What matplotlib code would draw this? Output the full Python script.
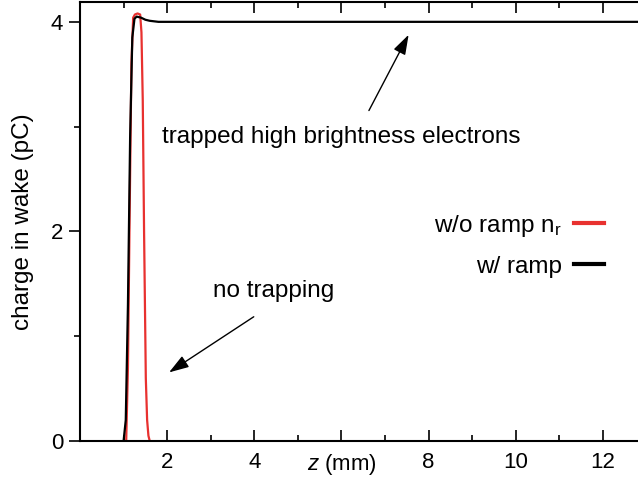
import matplotlib.pyplot as plt
from matplotlib.ticker import MultipleLocator

plt.rcParams['font.family'] = ['Liberation Sans', 'DejaVu Sans']
plt.rcParams['mathtext.fontset'] = 'custom'
plt.rcParams['mathtext.rm'] = 'Liberation Sans'
plt.rcParams['mathtext.it'] = 'Liberation Sans:italic'

# charge trapped in the wake vs propagation distance
z_ramp = [1.0, 1.05, 1.1, 1.15, 1.2, 1.25, 1.3, 1.4, 1.5, 1.6, 1.8, 2.0, 3.0, 6.0, 13.0]
q_ramp = [0.0, 0.2, 1.3, 2.9, 3.85, 4.03, 4.05, 4.04, 4.02, 4.01, 4.0, 4.0, 4.0, 4.0, 4.0]

z_noramp = [1.06, 1.1, 1.14, 1.18, 1.22, 1.26, 1.32, 1.38, 1.41, 1.44, 1.47, 1.51, 1.54, 1.57, 1.6]
q_noramp = [0.0, 0.7, 2.2, 3.6, 4.04, 4.07, 4.08, 4.07, 3.9, 3.25, 2.0, 0.6, 0.2, 0.05, 0.0]

xticks = [2, 4, 6, 8, 10, 12]
xlabels = ['2', '4', r'$\mathit{z}$ (mm)', '8', '10', '12']

fig = plt.figure(figsize=(6.38, 4.83), dpi=100)
ax = fig.add_axes([0.1254, 0.087, 0.888, 0.909])

ax.plot(z_noramp, q_noramp, color='#e8312f', lw=1.6, label=r'w/o ramp n$_\mathrm{r}$')
ax.plot(z_ramp, q_ramp, color='black', lw=1.6, label='w/ ramp')

ax.set_xlim(0, 13)
ax.set_ylim(0, 4.19)
ax.set_xticks(xticks)
ax.set_xticklabels(xlabels)
ax.xaxis.set_minor_locator(MultipleLocator(1))
ax.set_yticks([0, 2, 4])
ax.yaxis.set_minor_locator(MultipleLocator(1))

ax.tick_params(axis='x', which='both', direction='in', top=True, labelsize=16, pad=8)
ax.tick_params(axis='x', which='major', length=8, width=1.2)
ax.tick_params(axis='x', which='minor', length=4, width=1.2)
ax.tick_params(axis='y', which='both', direction='out', labelsize=16, pad=4)
ax.tick_params(axis='y', which='major', length=8, width=1.2)
ax.tick_params(axis='y', which='minor', length=4, width=1.2)
for s in ax.spines.values():
    s.set_linewidth(1.5)
ax.spines['right'].set_visible(False)

ax.set_ylabel('charge in wake (pC)', fontsize=17.5, labelpad=12)

arrow = dict(arrowstyle='-|>,head_length=0.55,head_width=0.18', color='black',
             lw=1, mutation_scale=22)
ax.annotate('', xy=(7.57, 3.90), xytext=(6.6, 3.13), arrowprops=arrow)
ax.text(1.87, 2.9, 'trapped high brightness electrons', fontsize=17.5, va='center')

ax.annotate('', xy=(1.99, 0.64), xytext=(4.04, 1.20), arrowprops=arrow)
ax.text(3.05, 1.43, 'no trapping', fontsize=17.5, va='center')

leg = ax.legend(loc='upper right', bbox_to_anchor=(0.947, 0.547), frameon=False,
                markerfirst=False, fontsize=17.5, handlelength=1.25, handletextpad=0.5,
                labelspacing=0.68, borderpad=0)
for line in leg.get_lines():
    line.set_linewidth(3)

fig.savefig('out.png', dpi=100)
